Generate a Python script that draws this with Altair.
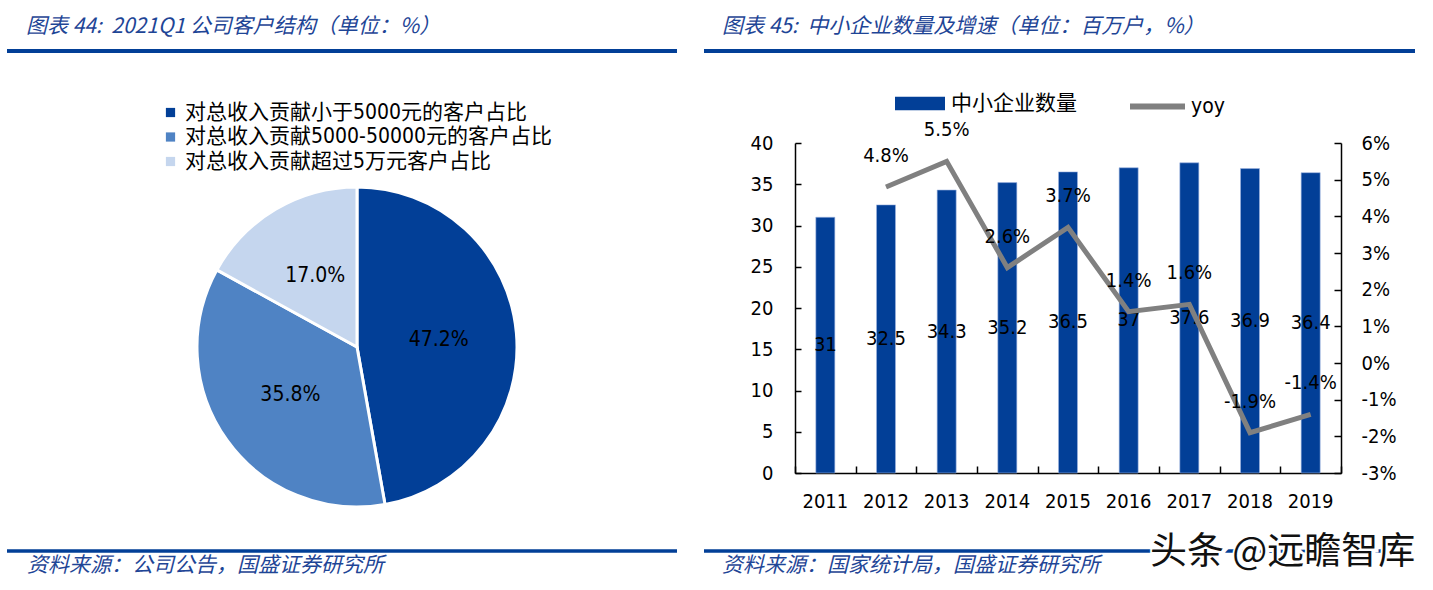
import altair as alt
import pandas as pd

W, H = 1433, 590

# ---------------- data ----------------
pie_labels = ["对总收入贡献小于5000元的客户占比",
              "对总收入贡献5000-50000元的客户占比",
              "对总收入贡献超过5万元客户占比"]
pie_values = [47.2, 35.8, 17.0]
pie_colors = ["#023F97", "#4F83C4", "#C5D6EE"]

years = ["2011", "2012", "2013", "2014", "2015", "2016", "2017", "2018", "2019"]
sme_counts = [31, 32.5, 34.3, 35.2, 36.5, 37, 37.6, 36.9, 36.4]
yoy_years = ["2012", "2013", "2014", "2015", "2016", "2017", "2018", "2019"]
yoy_values = [4.8, 5.5, 2.6, 3.7, 1.4, 1.6, -1.9, -1.4]
left_ticks = [0, 5, 10, 15, 20, 25, 30, 35, 40]
right_ticks = [-3, -2, -1, 0, 1, 2, 3, 4, 5, 6]

NB = "\u00a0"
title_left = f"图表{NB}44:{NB}{NB}2021Q1{NB}公司客户结构（单位：%）"
title_right = f"图表{NB}45:{NB}{NB}中小企业数量及增速（单位：百万户，%）"
source_left = "资料来源：公司公告，国盛证券研究所"
source_right = "资料来源：国家统计局，国盛证券研究所"
watermark = f"头条{NB}@远瞻智库"

# ---------------- style ----------------
NUM = "DejaVu Sans Condensed, Noto Sans CJK SC"
CJK = "Noto Sans CJK SC"
BLUE = "#023F97"
TBLUE = "#1E4596"
GRAY = "#808080"

X0, X1 = 795, 1341   # plot x-range of right chart
Y0, Y1 = 473, 143    # plot y-range of right chart

one = alt.Data(values=[{}])


def xscale():
    return alt.Scale(domain=years, range=[X0, X1], paddingInner=0, paddingOuter=0)


def yl():
    return alt.Scale(domain=[0, 40], range=[Y0, Y1], nice=False, zero=False)


def yr():
    return alt.Scale(domain=[-3, 6], range=[Y0, Y1], nice=False, zero=False)


# ---------------- pie ----------------
pie_df = pd.DataFrame({"label": pie_labels, "value": pie_values, "order": [0, 1, 2]})
pie_df["text"] = [f"{v:.1f}%" for v in pie_values]

pie = alt.Chart(pie_df).mark_arc(outerRadius=160, stroke="white", strokeWidth=3).encode(
    theta=alt.Theta("value:Q", stack=True),
    order=alt.Order("order:Q", sort="ascending"),
    color=alt.Color("label:N", sort=pie_labels,
                    scale=alt.Scale(domain=pie_labels, range=pie_colors),
                    legend=alt.Legend(orient="none", legendX=160, legendY=102, title=None,
                                      symbolType="square", symbolSize=85, symbolStrokeWidth=0,
                                      labelFont=NUM, labelFontSize=21, labelColor="black",
                                      labelOffset=4, rowPadding=2.5, padding=0, labelLimit=600)),
    x=alt.value(357), y=alt.value(347),
)
pie_txt = alt.Chart(pie_df).mark_text(radius=82, font=NUM, fontSize=21, color="black").encode(
    theta=alt.Theta("value:Q", stack=True),
    order=alt.Order("order:Q", sort="ascending"),
    text="text:N",
    x=alt.value(357), y=alt.value(347),
)

# ---------------- bars ----------------
bar_df = pd.DataFrame({"year": years, "count": sme_counts})
bar_df["series"] = "中小企业数量"
bar_df["label"] = [f"{v:g}" for v in sme_counts]
bar_df["mid"] = [v / 2 for v in sme_counts]

bars = alt.Chart(bar_df).mark_bar(size=19, stroke="#9FB6E0", strokeWidth=0.6).encode(
    x=alt.X("year:N", scale=xscale(), title=None,
            axis=alt.Axis(orient="bottom", offset=Y0 - H, ticks=False, tickSize=0,
                          labelPadding=18, labelFont=NUM, labelFontSize=20,
                          labelColor="black", labelAngle=0, domainColor="black",
                          domainWidth=1.5, grid=False)),
    y=alt.Y("count:Q", scale=yl(), title=None,
            axis=alt.Axis(orient="left", offset=-X0, values=left_ticks, ticks=False,
                          tickSize=0, labelPadding=22, labelFont=NUM, labelFontSize=20,
                          labelColor="black", domainColor="black", domainWidth=1.5,
                          grid=False)),
    fill=alt.Fill("series:N", scale=alt.Scale(domain=["中小企业数量"], range=[BLUE]),
                  legend=alt.Legend(orient="none", legendX=895, legendY=78.5, title=None,
                                    symbolType="M-1,-0.27H1V0.27H-1Z", symbolSize=2500,
                                    symbolStrokeWidth=0, labelFont=NUM, labelFontSize=21,
                                    labelColor="black", labelOffset=6, padding=0)),
)

bar_txt = alt.Chart(bar_df).mark_text(font=NUM, fontSize=20, color="black").encode(
    x=alt.X("year:N", scale=xscale(), title=None,
            axis=alt.Axis(orient="top", offset=-Y0, tickBand="extent", tickSize=7,
                          tickWidth=1.5, tickColor="black", labels=False, domain=False,
                          grid=False)),
    y=alt.Y("mid:Q", scale=yl(), title=None,
            axis=alt.Axis(orient="right", offset=X0 - W, values=left_ticks, tickSize=6,
                          tickWidth=1.5, tickColor="black", labels=False, domain=False,
                          grid=False)),
    text="label:N",
)

# ---------------- yoy line ----------------
yoy_df = pd.DataFrame({"year": yoy_years, "yoy": yoy_values})
yoy_df["series"] = "yoy"
yoy_df["label"] = [f"{v:.1f}%" for v in yoy_values]

line = alt.Chart(yoy_df).mark_line(strokeWidth=5, strokeJoin="miter").encode(
    x=alt.X("year:N", scale=xscale(), axis=None),
    y=alt.Y("yoy:Q", scale=yr(), title=None,
            axis=alt.Axis(orient="right", offset=X1 - W, values=right_ticks, ticks=False,
                          tickSize=0, labelPadding=20, labelFont=NUM, labelFontSize=20,
                          labelColor="black", labelExpr="datum.value + '%'",
                          domainColor="black", domainWidth=1.5, grid=False)),
    stroke=alt.Stroke("series:N", scale=alt.Scale(domain=["yoy"], range=[GRAY]),
                      legend=alt.Legend(orient="none", legendX=1127, legendY=76, title=None,
                                        symbolType="stroke", symbolSize=3025,
                                        symbolStrokeWidth=6, labelFont=NUM,
                                        labelFontSize=21, labelColor="black",
                                        labelOffset=3, padding=0)),
)

line_txt = alt.Chart(yoy_df).mark_text(font=NUM, fontSize=20, color="black", dy=-31).encode(
    x=alt.X("year:N", scale=xscale(), axis=None),
    y=alt.Y("yoy:Q", scale=yr(), title=None,
            axis=alt.Axis(orient="left", offset=-X1, values=right_ticks, tickSize=7,
                          tickWidth=1.5, tickColor="black", labels=False, domain=False,
                          grid=False)),
    text="label:N",
)


# ---------------- decorations ----------------
def txt(s, x, y, size, color, italic=True, font=CJK):
    kw = dict(text=s, font=font, fontSize=size, color=color, align="left", baseline="middle")
    if italic:
        kw["fontStyle"] = "italic"
    return alt.Chart(one).mark_text(**kw).encode(x=alt.value(x), y=alt.value(y))


def hrule(x1, x2, y, w):
    return alt.Chart(one).mark_rule(color=BLUE, strokeWidth=w).encode(
        x=alt.value(x1), x2=alt.value(x2), y=alt.value(y))


decor = [
    txt(title_left, 26, 27, 21, TBLUE),
    txt(title_right, 722, 27, 21, TBLUE),
    hrule(7, 677, 51, 4),
    hrule(704, 1415, 51, 4),
    hrule(7, 677, 551, 3.5),
    hrule(704, 1415, 551, 3.5),
    txt(source_left, 27, 566, 21, TBLUE),
    txt(source_right, 722, 566, 21, TBLUE),
]

wm_halo = alt.Chart(one).mark_text(text=watermark, font=CJK, fontSize=37, fill="white",
                                   stroke="white", strokeWidth=6, align="left",
                                   baseline="middle").encode(x=alt.value(1151), y=alt.value(554))
wm = alt.Chart(one).mark_text(text=watermark, font=CJK, fontSize=37, color="#111111",
                              align="left", baseline="middle").encode(
    x=alt.value(1150), y=alt.value(553))

chart = alt.layer(
    pie, pie_txt, bars, bar_txt, line, line_txt, *decor, wm_halo, wm
).resolve_scale(
    x="independent", y="independent"
).properties(
    width=W, height=H, padding=0,
    autosize=alt.AutoSizeParams(type="none"),
    background="white",
).configure_view(strokeWidth=0)

chart.save("out.html", embed_options={"renderer": "svg", "actions": False})
